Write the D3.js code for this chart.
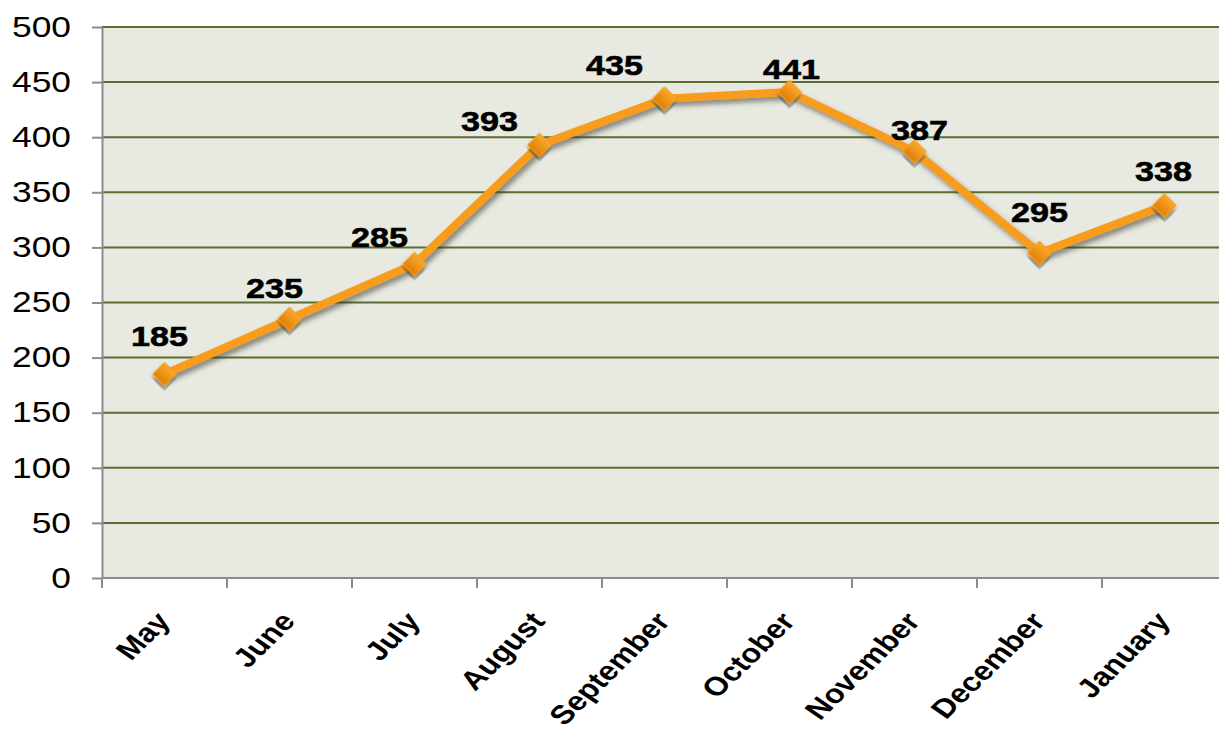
<!DOCTYPE html>
<html>
<head>
<meta charset="utf-8">
<script src="https://d3js.org/d3.v7.min.js"></script>
<style>
  html, body { margin: 0; padding: 0; background: #ffffff; overflow: hidden; }
  svg { display: block; }
</style>
</head>
<body>
<div id="chart"></div>
<script>
// Chart data
const months = ['May', 'June', 'July', 'August', 'September', 'October', 'November', 'December', 'January'];
const values = [185, 235, 285, 393, 435, 441, 387, 295, 338];
const yTicks = [0, 50, 100, 150, 200, 250, 300, 350, 400, 450, 500];

// Manual nudges for the value labels (as placed in the original)
const labelDx = [-5, -15, -35, -50, -50, 2, 5, 0, -1];
const labelUp = [28, 21, 17, 14, 24, 13, 12, 31, 25];

const width = 1219;
const height = 734;
const plot = { left: 102, right: 1227, top: 27, bottom: 578 };
const stretch = 1.22; // the original is widened horizontally

const svg = d3.select('#chart')
  .append('svg')
  .attr('width', width)
  .attr('height', height);

const defs = svg.append('defs');

const shadow = defs.append('filter')
  .attr('id', 'shadow')
  .attr('x', '-20%').attr('y', '-20%')
  .attr('width', '140%').attr('height', '140%');
shadow.append('feDropShadow')
  .attr('dx', 3).attr('dy', 4)
  .attr('stdDeviation', 2.5)
  .attr('flood-color', '#3a3a30')
  .attr('flood-opacity', 0.55);

const grad = defs.append('linearGradient')
  .attr('id', 'markerFill')
  .attr('x1', 0).attr('y1', 0).attr('x2', 0).attr('y2', 1);
grad.append('stop').attr('offset', '0%').attr('stop-color', '#fba82c');
grad.append('stop').attr('offset', '100%').attr('stop-color', '#e07f06');

const x = d3.scaleBand()
  .domain(months)
  .range([plot.left, plot.right])
  .padding(0);

const y = d3.scaleLinear()
  .domain([0, 500])
  .range([plot.bottom, plot.top]);

const cx = m => x(m) + x.bandwidth() / 2;

// Plot background
svg.append('rect')
  .attr('x', plot.left)
  .attr('y', plot.top)
  .attr('width', plot.right - plot.left)
  .attr('height', plot.bottom - plot.top)
  .attr('fill', '#e8e9e0');

// Gridlines
svg.append('g')
  .selectAll('line')
  .data(yTicks.filter(d => d > 0))
  .join('line')
  .attr('x1', plot.left)
  .attr('x2', plot.right)
  .attr('y1', d => y(d))
  .attr('y2', d => y(d))
  .attr('stroke', '#5b6e2f')
  .attr('stroke-width', 2);

// Y axis
const yAxis = svg.append('g')
  .attr('transform', `translate(${plot.left},0)`)
  .call(d3.axisLeft(y).tickValues(yTicks).tickSize(10).tickSizeOuter(0));
yAxis.select('.domain').attr('stroke', '#8c8c8c').attr('stroke-width', 2);
yAxis.selectAll('.tick line').attr('stroke', '#8c8c8c').attr('stroke-width', 2);
yAxis.selectAll('.tick text')
  .attr('x', null)
  .attr('transform', `translate(-31,0) scale(${stretch},1)`)
  .attr('font-family', '"Liberation Sans", Arial, sans-serif')
  .attr('font-size', 29)
  .attr('fill', '#000');

// X axis
const xAxis = svg.append('g')
  .attr('transform', `translate(0,${plot.bottom})`);
xAxis.append('line')
  .attr('x1', plot.left).attr('x2', plot.right)
  .attr('stroke', '#8c8c8c').attr('stroke-width', 2);
xAxis.selectAll('.xtick')
  .data(months)
  .join('line')
  .attr('class', 'xtick')
  .attr('x1', d => x(d)).attr('x2', d => x(d))
  .attr('y1', 0).attr('y2', 10)
  .attr('stroke', '#8c8c8c').attr('stroke-width', 2);
xAxis.selectAll('.xlabel')
  .data(months)
  .join('text')
  .attr('class', 'xlabel')
  .attr('transform', d => `translate(${cx(d) + 7},${44}) scale(${stretch},1) rotate(-50)`)
  .attr('text-anchor', 'end')
  .attr('font-family', '"Liberation Sans", Arial, sans-serif')
  .attr('font-weight', 'bold')
  .attr('font-size', 26.5)
  .attr('fill', '#000')
  .text(d => d);

// Line
const line = d3.line()
  .x((d, i) => cx(months[i]))
  .y(d => y(d));

svg.append('path')
  .datum(values)
  .attr('d', line)
  .attr('fill', 'none')
  .attr('stroke', '#f89c1c')
  .attr('stroke-width', 8)
  .attr('stroke-linejoin', 'round')
  .attr('filter', 'url(#shadow)');

// Markers
svg.append('g')
  .selectAll('path')
  .data(values)
  .join('path')
  .attr('d', d3.symbol(d3.symbolSquare, 272))
  .attr('transform', (d, i) => `translate(${cx(months[i])},${y(d)}) rotate(45)`)
  .attr('fill', 'url(#markerFill)')
  .attr('stroke', '#f7a020')
  .attr('stroke-width', 1)
  .attr('filter', 'url(#shadow)');

// Value labels
svg.append('g')
  .selectAll('text')
  .data(values)
  .join('text')
  .attr('transform', (d, i) => `translate(${cx(months[i]) + labelDx[i]},${y(d) - labelUp[i]}) scale(${stretch},1)`)
  .attr('text-anchor', 'middle')
  .attr('font-family', '"Liberation Sans", Arial, sans-serif')
  .attr('font-weight', 'bold')
  .attr('font-size', 28)
  .attr('fill', '#000')
  .attr('stroke', '#000')
  .attr('stroke-width', 0.6)
  .text(d => d);
</script>
</body>
</html>
